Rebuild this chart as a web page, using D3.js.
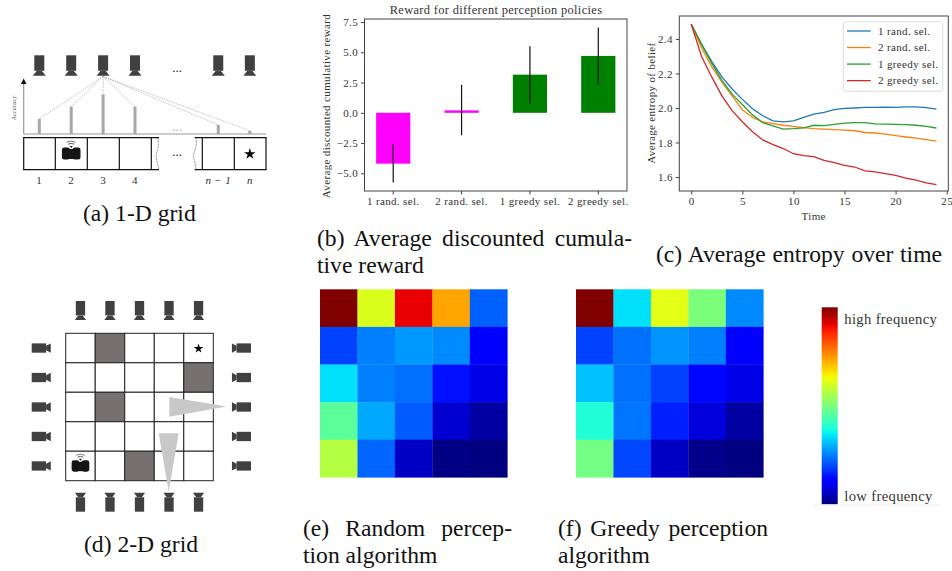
<!DOCTYPE html>
<html>
<head>
<meta charset="utf-8">
<script src="https://cdn.jsdelivr.net/npm/d3@7"></script>
<style>
  body { margin: 0; background: #fff; }
  svg { display: block; }
  text { font-family: "Liberation Serif", serif; fill: #333; }
  .cap { font-size: 23.6px; fill: #111; }
  .small { font-size: 11px; letter-spacing: 0.35px; }
  .axis text { font-family: "Liberation Serif", serif; font-size: 11px; letter-spacing: 0.35px; fill: #333; }
  .axis path, .axis line { stroke: #444; }
</style>
</head>
<body>
<script>
// panel b
var policies = ["1 rand. sel.", "2 rand. sel.", "1 greedy sel.", "2 greedy sel."];
var rewards = [-4.2, 0.2, 3.15, 4.7];
var rewardLow = [-5.75, -1.85, 0.75, 2.3];
var rewardHigh = [-2.6, 2.3, 5.5, 7.05];
var rewardColors = ["#ff00ff", "#ff00ff", "#008000", "#008000"];
var rewardTicks = [-5, -2.5, 0, 2.5, 5, 7.5];

// panel c
var times = d3.range(25);
var entropy1Rand = [2.485,2.37,2.27,2.18,2.11,2.05,1.995,1.955,1.925,1.92,1.925,1.945,1.965,1.975,1.99,1.998,2.0,2.003,2.004,2.005,2.003,2.006,2.007,2.002,1.993];
var entropy2Rand = [2.485,2.35,2.24,2.15,2.07,1.99,1.945,1.92,1.91,1.90,1.893,1.886,1.88,1.878,1.875,1.872,1.868,1.858,1.855,1.848,1.84,1.832,1.825,1.817,1.808];
var entropy1Greedy = [2.485,2.37,2.26,2.16,2.08,2.02,1.96,1.915,1.897,1.878,1.88,1.885,1.90,1.898,1.905,1.912,1.915,1.915,1.908,1.906,1.905,1.904,1.9,1.893,1.884];
var entropy2Greedy = [2.485,2.30,2.18,2.07,1.985,1.92,1.862,1.815,1.788,1.765,1.735,1.724,1.718,1.696,1.683,1.668,1.658,1.636,1.63,1.62,1.61,1.593,1.582,1.566,1.556];
var entropySeries = [entropy1Rand, entropy2Rand, entropy1Greedy, entropy2Greedy];
var entropyColors = ["#1f77b4", "#ff7f0e", "#2ca02c", "#d62728"];

// panels e and f, 0 = low frequency, 1 = high frequency
var randomFreq = [
  [1.0, 0.615, 0.91, 0.735, 0.22],
  [0.19, 0.25, 0.275, 0.26, 0.12],
  [0.345, 0.25, 0.235, 0.14, 0.09],
  [0.46, 0.29, 0.215, 0.07, 0.03],
  [0.57, 0.225, 0.06, 0.005, 0.0]
];
var greedyFreq = [
  [1.0, 0.345, 0.625, 0.5, 0.26],
  [0.19, 0.235, 0.27, 0.25, 0.12],
  [0.315, 0.235, 0.19, 0.13, 0.09],
  [0.39, 0.24, 0.155, 0.08, 0.03],
  [0.49, 0.195, 0.06, 0.01, 0.0]
];

// panel a
var gridCols = [1, 2, 3, 4, 6.61, 7.6];
var gridLabels = ["1", "2", "3", "4", "n − 1", "n"];
var accuracy = [0.38, 0.69, 1, 0.69, 0.23, 0.08];

// panel d
var gridIdx = [0, 1, 2, 3, 4];
var wallRows = [0, 1, 2, 4];
var wallCols = [1, 4, 1, 2];

var svg = d3.select("body").append("svg").attr("width", 952).attr("height", 571);

// jet colormap, same channel breakpoints as matplotlib
var jetR = d3.scaleLinear().domain([0, 0.35, 0.66, 0.89, 1]).range([0, 0, 1, 1, 0.5]);
var jetG = d3.scaleLinear().domain([0, 0.125, 0.375, 0.64, 0.91, 1]).range([0, 0, 1, 1, 0, 0]);
var jetB = d3.scaleLinear().domain([0, 0.11, 0.34, 0.65, 1]).range([0.5, 1, 1, 0, 0]);
function jet(v) {
  return d3.rgb(jetR(v) * 255, jetG(v) * 255, jetB(v) * 255).formatHex();
}

/* ---------- captions ---------- */
function caption(str, x, y, width) {
  var t = svg.append("text").attr("class", "cap").attr("x", x).attr("y", y).text(str);
  if (width) {
    var gaps = str.split(" ").length - 1;
    var extra = (width - t.node().getComputedTextLength()) / gaps;
    t.style("word-spacing", extra + "px");
  }
}
caption("(a) 1-D grid", 83, 221);
caption("(b) Average discounted cumula-", 317, 246, 315);
caption("tive reward", 317, 272.5);
caption("(c) Average entropy over time", 656, 261.5, 286);
caption("(d) 2-D grid", 84, 551.5);
caption("(e) Random percep-", 303, 536, 209);
caption("tion algorithm", 303, 562.5);
caption("(f) Greedy perception", 558, 536, 210);
caption("algorithm", 558, 562.5);

/* ---------- shared icons ---------- */
function camera(g, tx, ty, angle, s, flare) {
  var c = g.append("g").attr("transform", "translate(" + tx + "," + ty + ") rotate(" + angle + ") scale(" + s + ")");
  c.append("rect").attr("x", -5).attr("y", 0).attr("width", 10).attr("height", 15.5).attr("fill", "#404040");
  c.append("path").attr("d", "M-2.5,15.5L2.5,15.5L" + flare + ",20.5L-" + flare + ",20.5Z").attr("fill", "#404040");
}
function robot(g, cx, cy, s) {
  var r = g.append("g").attr("transform", "translate(" + cx + "," + cy + ") scale(" + s + ")");
  r.append("rect").attr("x", -9.3).attr("y", -6).attr("width", 8).attr("height", 12).attr("rx", 2.5).attr("fill", "#151515");
  r.append("rect").attr("x", 1.3).attr("y", -6).attr("width", 8).attr("height", 12).attr("rx", 2.5).attr("fill", "#151515");
  r.append("rect").attr("x", -4).attr("y", -4.5).attr("width", 8).attr("height", 10).attr("fill", "#151515");
  r.append("path").attr("d", "M-1.6,-7.5L1.6,-7.5L0,-5.6Z").attr("fill", "#151515");
  r.append("path").attr("d", "M-3,-9.3Q0,-11 3,-9.3").attr("fill", "none").attr("stroke", "#555").attr("stroke-width", 1);
  r.append("path").attr("d", "M-4.5,-11.3Q0,-13.6 4.5,-11.3").attr("fill", "none").attr("stroke", "#777").attr("stroke-width", 1);
}
function star(g, cx, cy, size) {
  g.append("path").attr("d", d3.symbol().type(d3.symbolStar).size(size)())
    .attr("transform", "translate(" + cx + "," + cy + ")").attr("fill", "#000");
}

/* ---------- (a) 1-D grid ---------- */
var ga = svg.append("g");
var colX = d3.scaleLinear().domain([1, 4]).range([39.3, 135]);
var accY = d3.scaleLinear().domain([0, 1]).range([134, 94.3]);

gridCols.forEach(function(c) { camera(ga, colX(c), 55.3, 0, 1, 6.5); });
ga.append("text").attr("x", 177).attr("y", 72).attr("text-anchor", "middle").attr("font-size", 13).style("fill", "#111").text("...");

gridCols.forEach(function(c, i) {
  if (i != 2) {
    ga.append("line").attr("x1", colX(3)).attr("y1", 76.5).attr("x2", colX(c)).attr("y2", accY(accuracy[i]))
      .attr("stroke", "#aaa").attr("stroke-width", 0.7).attr("stroke-dasharray", "1.5,1");
  }
});
ga.append("line").attr("x1", colX(3)).attr("y1", 76.5).attr("x2", colX(3)).attr("y2", accY(1))
  .attr("stroke", "#aaa").attr("stroke-width", 0.7).attr("stroke-dasharray", "1.5,1");

ga.selectAll("rect.acc").data(accuracy).enter().append("rect").attr("class", "acc")
  .attr("x", function(d, i) { return colX(gridCols[i]) - 1.5; })
  .attr("y", function(d) { return accY(d); })
  .attr("width", 3)
  .attr("height", function(d) { return accY(0) - accY(d); })
  .attr("fill", "#a8a8a8");

ga.append("line").attr("x1", 23.7).attr("y1", 134).attr("x2", 266).attr("y2", 134).attr("stroke", "#999").attr("stroke-width", 1.2);
ga.append("line").attr("x1", 23.7).attr("y1", 134).attr("x2", 23.7).attr("y2", 82).attr("stroke", "#999").attr("stroke-width", 1.2);
ga.append("path").attr("d", "M23.7,78.5L26.5,84L20.9,84Z").attr("fill", "#111");
ga.append("text").attr("transform", "translate(16,108) rotate(-90)").attr("text-anchor", "middle")
  .attr("font-size", 6.5).attr("font-style", "italic").style("fill", "#555").text("Accuracy");
ga.append("text").attr("x", 177).attr("y", 131).attr("text-anchor", "middle").attr("font-size", 13).style("fill", "#aaa").text("...");

// cell strip, broken in the middle
var cellEdges = [23.7, 55.3, 87.3, 119.3, 151.3, 202.3, 234.3, 266];
cellEdges.forEach(function(x) {
  ga.append("line").attr("x1", x).attr("x2", x).attr("y1", 137.7).attr("y2", 169.7).attr("stroke", "#111").attr("stroke-width", 1.2);
});
[137.7, 169.7].forEach(function(y) {
  ga.append("line").attr("x1", 23).attr("x2", 159).attr("y1", y).attr("y2", y).attr("stroke", "#111").attr("stroke-width", 1.2);
  ga.append("line").attr("x1", 194.7).attr("x2", 266.6).attr("y1", y).attr("y2", y).attr("stroke", "#111").attr("stroke-width", 1.2);
});
var wave = d3.line().curve(d3.curveBasis);
ga.append("path").attr("d", wave([[157, 137.7], [159.5, 146], [155.5, 154], [157, 162], [159, 169.7]]))
  .attr("fill", "none").attr("stroke", "#666").attr("stroke-width", 0.7).attr("stroke-dasharray", "2,1");
ga.append("path").attr("d", wave([[196, 137.7], [197, 146], [192.5, 155], [195, 162], [196, 169.7]]))
  .attr("fill", "none").attr("stroke", "#666").attr("stroke-width", 0.7).attr("stroke-dasharray", "2,1");
ga.append("text").attr("x", 177).attr("y", 156).attr("text-anchor", "middle").attr("font-size", 13).style("fill", "#111").text("...");
robot(ga, colX(2), 153.5, 1);
star(ga, colX(7.6), 154, 40);

ga.selectAll("text.num").data(gridLabels).enter().append("text").attr("class", "num small")
  .attr("x", function(d, i) { return colX(gridCols[i]); })
  .attr("y", 184).attr("text-anchor", "middle")
  .attr("font-style", function(d) { return d.indexOf("n") == 0 ? "italic" : "normal"; })
  .text(function(d) { return d; });

/* ---------- (b) reward bars ---------- */
var bX = d3.scaleBand().domain(policies).range([364.5, 627]).paddingInner(0.5).paddingOuter(0.17);
var bY = d3.scaleLinear().domain([-6.46, 7.75]).range([191, 19]);

svg.selectAll("rect.reward").data(rewards).enter().append("rect").attr("class", "reward")
  .attr("x", function(d, i) { return bX(policies[i]); })
  .attr("y", function(d) { return bY(Math.max(d, 0)); })
  .attr("width", bX.bandwidth())
  .attr("height", function(d) { return Math.abs(bY(d) - bY(0)); })
  .attr("fill", function(d, i) { return rewardColors[i]; });

svg.selectAll("line.err").data(rewards).enter().append("line").attr("class", "err")
  .attr("x1", function(d, i) { return bX(policies[i]) + bX.bandwidth() / 2; })
  .attr("x2", function(d, i) { return bX(policies[i]) + bX.bandwidth() / 2; })
  .attr("y1", function(d, i) { return bY(rewardLow[i]); })
  .attr("y2", function(d, i) { return bY(rewardHigh[i]); })
  .attr("stroke", "#111").attr("stroke-width", 1.2);

svg.append("rect").attr("x", 364.5).attr("y", 19).attr("width", 262.5).attr("height", 172)
  .attr("fill", "none").attr("stroke", "#444");

svg.append("g").attr("class", "axis").attr("transform", "translate(0,191)")
  .call(d3.axisBottom(bX).tickSize(3.5).tickPadding(3).tickSizeOuter(0))
  .call(function(g) { g.select(".domain").remove(); });
svg.append("g").attr("class", "axis").attr("transform", "translate(364.5,0)")
  .call(d3.axisLeft(bY).tickValues(rewardTicks).tickSize(3.5).tickPadding(3)
    .tickFormat(function(d) { return d3.format(".1f")(d).replace("-", "−"); }))
  .call(function(g) { g.select(".domain").remove(); });

svg.append("text").attr("class", "small").attr("x", 496).attr("y", 14).attr("text-anchor", "middle")
  .style("font-size", "12.4px").text("Reward for different perception policies");
svg.append("text").attr("class", "small").attr("transform", "translate(330,106) rotate(-90)")
  .attr("text-anchor", "middle").text("Average discounted cumulative reward");

/* ---------- (c) entropy lines ---------- */
var cX = d3.scaleLinear().domain([-1.17, 25.16]).range([679.3, 948.3]);
var cY = d3.scaleLinear().domain([1.519, 2.533]).range([191, 16]);
var entropyLine = d3.line().x(function(d, i) { return cX(times[i]); }).y(function(d) { return cY(d); });

svg.selectAll("path.entropy").data(entropySeries).enter().append("path").attr("class", "entropy")
  .attr("d", entropyLine).attr("fill", "none")
  .attr("stroke", function(d, i) { return entropyColors[i]; }).attr("stroke-width", 1.3);

svg.append("rect").attr("x", 679.3).attr("y", 16).attr("width", 269).attr("height", 175)
  .attr("fill", "none").attr("stroke", "#444");

svg.append("g").attr("class", "axis").attr("transform", "translate(0,191)")
  .call(d3.axisBottom(cX).tickValues([0, 5, 10, 15, 20, 25]).tickSize(3.5).tickPadding(3))
  .call(function(g) { g.select(".domain").remove(); });
svg.append("g").attr("class", "axis").attr("transform", "translate(679.3,0)")
  .call(d3.axisLeft(cY).tickValues([1.6, 1.8, 2.0, 2.2, 2.4]).tickSize(3.5).tickPadding(3).tickFormat(d3.format(".1f")))
  .call(function(g) { g.select(".domain").remove(); });

svg.append("text").attr("class", "small").attr("x", 813.7).attr("y", 220).attr("text-anchor", "middle").text("Time");
svg.append("text").attr("class", "small").attr("transform", "translate(655,103) rotate(-90)")
  .attr("text-anchor", "middle").text("Average entropy of belief");

var legend = svg.append("g");
legend.append("rect").attr("x", 843.3).attr("y", 21.7).attr("width", 99.4).attr("height", 69.6).attr("rx", 2)
  .attr("fill", "#fff").attr("fill-opacity", 0.8).attr("stroke", "#ddd");
policies.forEach(function(p, i) {
  var ly = 31 + i * 16.55;
  legend.append("line").attr("x1", 847).attr("x2", 870.7).attr("y1", ly).attr("y2", ly)
    .attr("stroke", entropyColors[i]).attr("stroke-width", 1.3);
  legend.append("text").attr("class", "small").attr("x", 878).attr("y", ly + 3.5).text(p);
});

/* ---------- (d) 2-D grid ---------- */
var gd = svg.append("g");
var dX = d3.scaleBand().domain(gridIdx).range([65.7, 213.3]);
var dY = d3.scaleBand().domain(gridIdx).range([333.3, 480.7]);

gridIdx.forEach(function(r) {
  gridIdx.forEach(function(c) {
    var wall = wallRows.some(function(w, i) { return w == r && wallCols[i] == c; });
    gd.append("rect").attr("x", dX(c)).attr("y", dY(r)).attr("width", dX.bandwidth()).attr("height", dY.bandwidth())
      .attr("fill", wall ? "#767170" : "#fff").attr("stroke", "#222").attr("stroke-width", 1);
  });
});
star(gd, dX(4) + dX.bandwidth() / 2, dY(0) + dY.bandwidth() / 2 + 0.5, 28);
robot(gd, dX(0) + dX.bandwidth() / 2, dY(4) + dY.bandwidth() / 2, 0.95);

gridIdx.forEach(function(i) {
  var px = dX(i) + dX.bandwidth() / 2, py = dY(i) + dY.bandwidth() / 2;
  camera(gd, px, 301, 0, 0.93, 6);
  camera(gd, px, 511.7, 180, 0.93, 6);
  camera(gd, 31.7, py, -90, 0.93, 5);
  camera(gd, 251, py, 90, 0.93, 5);
});
gd.append("path").attr("d", "M169.3,397L226.7,406.5L169.3,416.7Z").attr("fill", "#c8c8c8");
gd.append("path").attr("d", "M158.7,433.3L178.7,433.3L168.7,491.7Z").attr("fill", "#c8c8c8");

/* ---------- (e), (f) heat maps ---------- */
function heatmap(values, x0, x1) {
  var x = d3.scaleBand().domain(gridIdx).range([x0, x1]);
  var y = d3.scaleBand().domain(gridIdx).range([289.3, 477.3]);
  values.forEach(function(row, r) {
    svg.append("g").selectAll("rect").data(row).enter().append("rect")
      .attr("x", function(d, c) { return x(c); })
      .attr("y", y(r))
      .attr("width", x.bandwidth() + 0.3)
      .attr("height", y.bandwidth() + 0.3)
      .attr("fill", function(d) { return jet(d); });
  });
}
heatmap(randomFreq, 320, 507.3);
heatmap(greedyFreq, 576, 763.3);

/* ---------- colour bar ---------- */
var grad = svg.append("defs").append("linearGradient").attr("id", "jetbar")
  .attr("x1", 0).attr("y1", 1).attr("x2", 0).attr("y2", 0);
d3.range(0, 1.001, 0.02).forEach(function(v) {
  grad.append("stop").attr("offset", v).attr("stop-color", jet(v));
});
svg.append("rect").attr("x", 821.7).attr("y", 307.3).attr("width", 16).attr("height", 197).attr("fill", "url(#jetbar)");
svg.append("text").attr("class", "small").attr("x", 844.3).attr("y", 324).style("font-size", "14.6px").text("high frequency");
svg.append("text").attr("class", "small").attr("x", 844.3).attr("y", 501).style("font-size", "14.6px").text("low frequency");
svg.append("line").attr("x1", 813).attr("x2", 941).attr("y1", 505).attr("y2", 505).attr("stroke", "#eee");
</script>
</body>
</html>
